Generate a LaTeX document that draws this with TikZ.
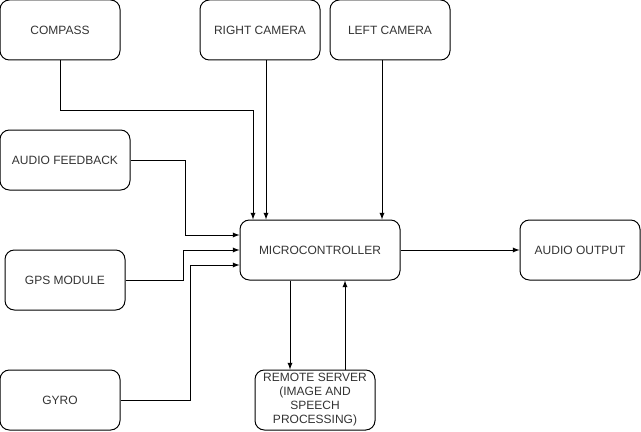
\documentclass[tikz,border=0pt]{standalone}
\usepackage{fontspec}
\setmainfont{Liberation Sans}
\usetikzlibrary{positioning}
\definecolor{txtgray}{HTML}{333333}

\tikzset{
    block/.style={draw, rounded corners=7pt, minimum width=90pt, minimum height=45pt,
        align=center, inner sep=2pt, text=txtgray, font=\fontsize{9}{10.5}\selectfont},
    arr/.style={>=latex, ->}
}

\begin{document}
\begin{tikzpicture}[x=0.75pt, y=-0.75pt, line width=0.75pt]

\useasboundingbox (0,0) rectangle (641,431);

% inputs along the top
\node [block] (compass) at (60,30) {COMPASS};
\node [block] (rcam) at (260,30) {RIGHT CAMERA};
\node [block] (lcam) at (390,30) {LEFT CAMERA};

% inputs on the left
\node [block, minimum width=97.5pt] (afb) at (65,160) {AUDIO FEEDBACK};
\node [block] (gps) at (65,280) {GPS MODULE};
\node [block] (gyro) at (60,400) {GYRO};

\node [block, minimum width=120pt] (mc) at (320,250) {MICROCONTROLLER};
\node [block] (aout) at (580,250) {AUDIO OUTPUT};
\node [block] (remote) at (315,400) {REMOTE SERVER\\(IMAGE AND\\SPEECH\\PROCESSING)};

\draw [arr] (compass.south) -- ++(0,50) -| ([shift={(-67,0)}]mc.north);
\draw [arr] ([shift={(6,0)}]rcam.south) -- ([shift={(-54,0)}]mc.north);
\draw [arr] ([shift={(-8,0)}]lcam.south) -- ([shift={(62,0)}]mc.north);

\draw [arr] (afb.east) -- ++(55,0) |- ([shift={(0,-15)}]mc.west);
\draw [arr] (gps.east) -- ++(58,0) |- (mc.west);
\draw [arr] (gyro.east) -- ++(70,0) |- ([shift={(0,15)}]mc.west);

\draw [arr] ([shift={(-30,0)}]mc.south) -- ([shift={(-25,0)}]remote.north);
\draw [arr] ([shift={(30,0)}]remote.north) -- ([shift={(25,0)}]mc.south);
\draw [arr] (mc) -- (aout);

\end{tikzpicture}
\end{document}
